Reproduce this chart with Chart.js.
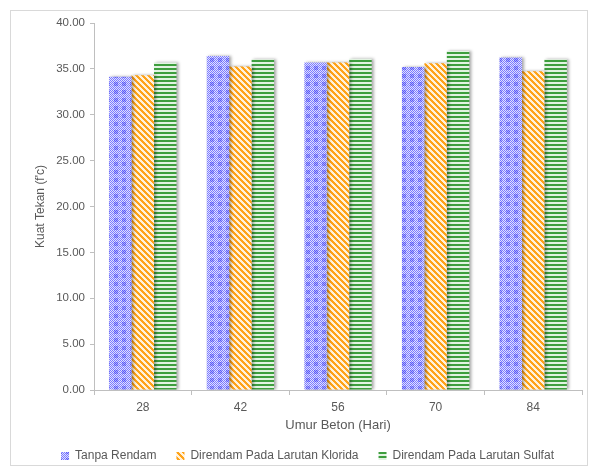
<!DOCTYPE html>
<html>
<head>
<meta charset="utf-8">
<script src="https://cdn.jsdelivr.net/npm/chart.js@4.4.1/dist/chart.umd.min.js"></script>
<style>
  html, body { margin: 0; padding: 0; background: #fff; }
  #wrap { width: 593px; height: 470px; }
</style>
</head>
<body>
<div id="wrap"><canvas id="c" width="593" height="470"></canvas></div>
<script>
// Umur beton (hari)
const categories = ['28', '42', '56', '70', '84'];
// Kuat tekan per kondisi perendaman
const tanpaRendam = [34.15, 36.40, 35.70, 35.20, 36.25];
const larutanKlorida = [34.30, 35.25, 35.70, 35.60, 34.75];
const larutanSulfat = [35.70, 36.05, 36.10, 36.95, 36.05];
const seriesNames = ['Tanpa Rendam', 'Direndam Pada Larutan Klorida', 'Direndam Pada Larutan Sulfat'];

// Fill patterns for the bars
function makeTile(w, h, painter) {
  const c = document.createElement('canvas');
  c.width = w; c.height = h;
  const g = c.getContext('2d');
  for (let y = 0; y < h; y++) {
    for (let x = 0; x < w; x++) {
      g.fillStyle = painter(x, y);
      g.fillRect(x, y, 1, 1);
    }
  }
  return g.createPattern(c, 'repeat');
}
const ctx = document.getElementById('c').getContext('2d');

const bluePattern = makeTile(8, 8, (x, y) => {
  const inner = (x >= 2 && x <= 5 && y >= 2 && y <= 5);
  if ((x + y) % 2 === 0) return inner ? '#5c5cf5' : '#7c7cff';
  return inner ? '#a8a8ff' : '#e0e0ff';
});
const orangePattern = makeTile(6, 6, (x, y) => {
  const d = ((x - y) % 6 + 6) % 6;
  return d < 3 ? '#ffa319' : '#fff1db';
});
const greenPattern = makeTile(1, 4, (x, y) => (y < 2 ? '#3e9e3e' : '#e2f3e2'));

const frame = {
  id: 'frame',
  beforeDraw(chart) {
    const c = chart.ctx;
    c.save();
    c.fillStyle = '#ffffff';
    c.fillRect(0, 0, chart.width, chart.height);
    c.strokeStyle = '#d9d9d9';
    c.lineWidth = 1;
    c.strokeRect(10.5, 10.5, 577, 455);
    c.restore();
  }
};

const barShadow = {
  id: 'barShadow',
  beforeDatasetsDraw(chart) {
    const c = chart.ctx;
    c.save();
    c.shadowColor = 'rgba(0,0,0,0.35)';
    c.shadowBlur = 3;
    c.shadowOffsetX = 2;
    c.shadowOffsetY = 0;
  },
  afterDatasetsDraw(chart) {
    chart.ctx.restore();
  }
};

const FONT = "'Liberation Sans', Arial, sans-serif";
const GRAY = '#595959';
const PAD_BOTTOM = -2;

new Chart(ctx, {
  type: 'bar',
  data: {
    labels: categories,
    datasets: [
      { label: seriesNames[0], data: tanpaRendam, backgroundColor: bluePattern, borderWidth: 0 },
      { label: seriesNames[1], data: larutanKlorida, backgroundColor: orangePattern, borderWidth: 0 },
      { label: seriesNames[2], data: larutanSulfat, backgroundColor: greenPattern, borderWidth: 0 }
    ]
  },
  options: {
    responsive: false,
    animation: false,
    devicePixelRatio: 1,
    layout: { padding: { top: 23, right: 11, bottom: PAD_BOTTOM, left: 33 } },
    datasets: { bar: { categoryPercentage: 0.69, barPercentage: 1.0 } },
    plugins: {
      legend: {
        position: 'bottom',
        labels: {
          font: { family: FONT, size: 12 },
          color: GRAY,
          boxWidth: 8,
          boxHeight: 8,
          padding: 20
        }
      },
      tooltip: { enabled: false }
    },
    scales: {
      x: {
        offset: true,
        grid: { display: true, drawOnChartArea: false, drawTicks: true, tickLength: 5, color: '#bfbfbf', offset: true },
        border: { color: '#bfbfbf' },
        ticks: { font: { family: FONT, size: 12 }, color: GRAY, padding: 5 },
        title: { display: true, text: 'Umur Beton (Hari)', font: { family: FONT, size: 13, lineHeight: 0.77 }, color: GRAY, padding: 0 },
        afterFit(scale) {
          const chart = scale.chart;
          const legendH = chart.legend ? chart.legend.height : 0;
          scale.height = 470 - PAD_BOTTOM - legendH - 390;
        }
      },
      y: {
        min: 0,
        max: 40,
        grid: { display: true, drawOnChartArea: false, drawTicks: true, tickLength: 4, color: '#bfbfbf' },
        border: { color: '#bfbfbf' },
        ticks: {
          stepSize: 5,
          font: { family: FONT, size: 11.5 },
          color: GRAY,
          padding: 5,
          callback: (v) => Number(v).toFixed(2)
        },
        title: { display: true, text: "Kuat Tekan (f'c)", font: { family: FONT, size: 12 }, color: GRAY, padding: 0 },
        afterFit(scale) {
          scale.width = 94 - 33;
        }
      }
    }
  },
  plugins: [frame, barShadow]
});
</script>
</body>
</html>
